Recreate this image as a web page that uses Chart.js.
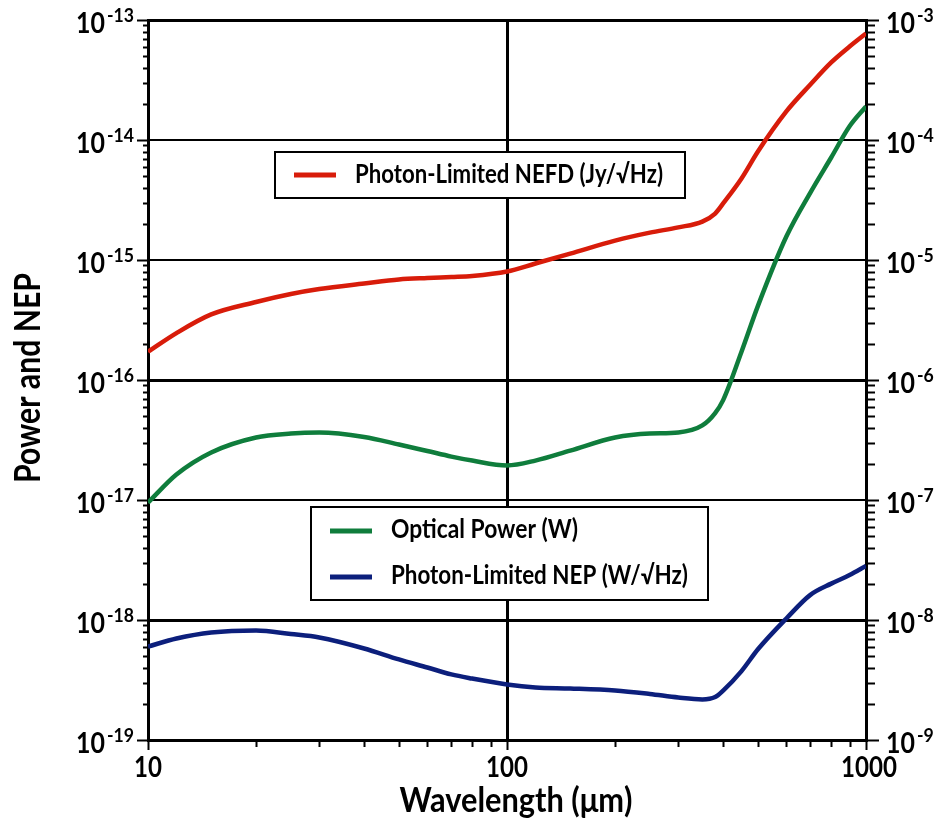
<!DOCTYPE html>
<html lang="en">
<head>
<meta charset="UTF-8">
<title>Power and NEP</title>
<script src="https://cdn.jsdelivr.net/npm/chart.js"></script>
<style>
  body { margin: 0; background: #fff; }
  canvas { display: block; }
</style>
</head>
<body>
<canvas id="chart" width="937" height="820"></canvas>
<script>
// wavelength (um)
const wavelengths = [10, 12, 15, 20, 25, 30, 40, 50, 60, 70, 80, 100, 120, 150, 200, 250, 300, 350, 380, 400, 450, 500, 600, 700, 800, 900, 1000];
// photon-limited NEFD (Jy/sqrt Hz), right axis
const nefd = [1.72e-6, 2.46e-6, 3.52e-6, 4.47e-6, 5.21e-6, 5.73e-6, 6.37e-6, 6.88e-6, 7.08e-6, 7.22e-6, 7.36e-6, 8.02e-6, 9.35e-6, 1.13e-5, 1.45e-5, 1.69e-5, 1.87e-5, 2.09e-5, 2.44e-5, 2.96e-5, 4.78e-5, 8.02e-5, 1.73e-4, 2.90e-4, 4.43e-4, 6.01e-4, 7.72e-4];
// optical power (W), right axis
const opticalPower = [9.5e-8, 1.63e-7, 2.49e-7, 3.32e-7, 3.58e-7, 3.65e-7, 3.35e-7, 2.90e-7, 2.56e-7, 2.30e-7, 2.13e-7, 1.94e-7, 2.13e-7, 2.58e-7, 3.32e-7, 3.58e-7, 3.65e-7, 4.18e-7, 5.30e-7, 6.80e-7, 1.72e-6, 4.15e-6, 1.57e-5, 3.65e-5, 7.15e-5, 1.30e-4, 1.90e-4];
// photon-limited NEP (W/sqrt Hz), left axis
const nep = [6.01e-19, 7.01e-19, 7.87e-19, 8.18e-19, 7.64e-19, 7.15e-19, 5.79e-19, 4.69e-19, 4.02e-19, 3.52e-19, 3.25e-19, 2.90e-19, 2.74e-19, 2.69e-19, 2.59e-19, 2.42e-19, 2.26e-19, 2.18e-19, 2.28e-19, 2.58e-19, 3.75e-19, 5.70e-19, 1.03e-18, 1.62e-18, 2.01e-18, 2.37e-18, 2.82e-18];

// tick labels
const xTickLabels = [10, 100, 1000];
const leftExponents = [-19, -18, -17, -16, -15, -14, -13];
const rightExponents = [-9, -8, -7, -6, -5, -4, -3];

const RED = '#d81c0a';
const GREEN = '#0f7d3c';
const BLUE = '#0c1f7c';
const FONT = 'Lato, "Open Sans", sans-serif';

function pts(arr) {
  return wavelengths.map((w, i) => ({ x: w, y: arr[i] }));
}

function isDecade(v) {
  const l = Math.log10(v);
  return Math.abs(l - Math.round(l)) < 1e-6;
}

// bold text squeezed sideways, the original face is a condensed one
function squeezed(ctx, text, x, y, size, align, sq) {
  ctx.save();
  ctx.font = 'bold ' + size + 'px ' + FONT;
  ctx.textAlign = 'left';
  ctx.textBaseline = 'alphabetic';
  const w = ctx.measureText(text).width * sq;
  let left = x;
  if (align === 'center') left = x - w / 2;
  if (align === 'right') left = x - w;
  ctx.translate(left, y);
  ctx.scale(sq, 1);
  ctx.fillText(text, 0, 0);
  ctx.restore();
  return w;
}

// same, but fit to a given width
function fitted(ctx, text, x, y, size, align, width) {
  ctx.save();
  ctx.font = 'bold ' + size + 'px ' + FONT;
  const sq = width / ctx.measureText(text).width;
  ctx.restore();
  return squeezed(ctx, text, x, y, size, align, sq);
}

function measure(ctx, text, size, sq) {
  ctx.save();
  ctx.font = 'bold ' + size + 'px ' + FONT;
  const w = ctx.measureText(text).width * sq;
  ctx.restore();
  return w;
}

const axisDecor = {
  id: 'axisDecor',
  afterDraw(chart) {
    const { ctx, chartArea: a, scales } = chart;
    ctx.save();
    ctx.strokeStyle = '#000';
    ctx.fillStyle = '#000';
    ctx.lineWidth = 2;

    // tick marks
    ctx.beginPath();
    for (let e = -19; e < -13; e++) {
      for (let k = 1; k <= 9; k++) {
        const py = Math.round(scales.y.getPixelForValue(k * Math.pow(10, e))) + 0.5;
        const len = k === 1 ? 11 : 5;
        ctx.moveTo(a.left, py); ctx.lineTo(a.left - len, py);
      }
    }
    for (let e = -9; e < -3; e++) {
      for (let k = 1; k <= 9; k++) {
        const py = Math.round(scales.y2.getPixelForValue(k * Math.pow(10, e))) + 0.5;
        const len = k === 1 ? 13 : 9;
        ctx.moveTo(a.right, py); ctx.lineTo(a.right + len, py);
      }
    }
    for (let e = 1; e < 3; e++) {
      for (let k = 1; k <= 9; k++) {
        const px = Math.round(scales.x.getPixelForValue(k * Math.pow(10, e))) + 0.5;
        const len = k === 1 ? 10 : 7;
        ctx.moveTo(px, a.bottom); ctx.lineTo(px, a.bottom + len);
      }
    }
    ctx.moveTo(a.left, Math.round(a.top) + 0.5); ctx.lineTo(a.left - 11, Math.round(a.top) + 0.5);
    ctx.moveTo(a.right, Math.round(a.top) + 0.5); ctx.lineTo(a.right + 13, Math.round(a.top) + 0.5);
    ctx.moveTo(a.right + 0.5, a.bottom); ctx.lineTo(a.right + 0.5, a.bottom + 10);
    ctx.stroke();

    // y tick labels, 10 with a raised exponent
    const baseSize = 29, baseSq = 0.86, expSize = 18, expSq = 0.98;
    leftExponents.forEach(e => {
      const py = scales.y.getPixelForValue(Math.pow(10, e));
      const expText = String(e);
      const we = measure(ctx, expText, expSize, expSq);
      squeezed(ctx, expText, 134 - we, py + 2, expSize, 'left', expSq);
      squeezed(ctx, '10', 134 - we - 2, py + 13, baseSize, 'right', baseSq);
    });
    rightExponents.forEach(e => {
      const py = scales.y2.getPixelForValue(Math.pow(10, e));
      const wb = squeezed(ctx, '10', 886, py + 13, baseSize, 'left', baseSq);
      squeezed(ctx, String(e), 886 + wb + 2, py + 2, expSize, 'left', expSq);
    });

    // x tick labels
    xTickLabels.forEach(v => {
      const px = scales.x.getPixelForValue(v);
      squeezed(ctx, String(v), px + (v === 1000 ? 3 : 0), a.bottom + 37, 28, 'center', baseSq);
    });

    // axis titles
    fitted(ctx, 'Wavelength (\u03bcm)', 516, 812, 35, 'center', 233);
    ctx.save();
    ctx.translate(40, 378);
    ctx.rotate(-Math.PI / 2);
    fitted(ctx, 'Power and NEP', 0, 0, 36, 'center', 210);
    ctx.restore();

    // legends
    ctx.lineWidth = 2;
    ctx.fillStyle = '#fff';
    ctx.fillRect(275, 152, 410, 46);
    ctx.strokeRect(275, 152, 410, 46);
    ctx.fillRect(311, 507, 397, 93);
    ctx.strokeRect(311, 507, 397, 93);

    const samples = [
      [RED, 175, 294, 'Photon-Limited NEFD (Jy/\u221aHz)', 355, 183, 308],
      [GREEN, 531, 330, 'Optical Power (W)', 391, 538, 187],
      [BLUE, 577, 330, 'Photon-Limited NEP (W/\u221aHz)', 391, 584, 297]
    ];
    samples.forEach(([color, ly, lx, text, tx, ty, tw]) => {
      ctx.strokeStyle = color;
      ctx.lineWidth = 5;
      ctx.beginPath();
      ctx.moveTo(lx, ly); ctx.lineTo(lx + 42, ly);
      ctx.stroke();
      ctx.fillStyle = '#000';
      fitted(ctx, text, tx, ty, 26, 'left', tw);
    });
    ctx.restore();
  }
};

const chart = new Chart(document.getElementById('chart'), {
  type: 'line',
  data: {
    datasets: [
      { label: 'Photon-Limited NEFD (Jy/\u221aHz)', data: pts(nefd), borderColor: RED, yAxisID: 'y2' },
      { label: 'Optical Power (W)', data: pts(opticalPower), borderColor: GREEN, yAxisID: 'y2' },
      { label: 'Photon-Limited NEP (W/\u221aHz)', data: pts(nep), borderColor: BLUE, yAxisID: 'y' }
    ]
  },
  options: {
    responsive: false,
    animation: false,
    layout: { padding: { left: 148, right: 71, top: 20, bottom: 80 } },
    elements: {
      point: { radius: 0 },
      line: { borderWidth: 4.5, cubicInterpolationMode: 'monotone', fill: false }
    },
    plugins: { legend: { display: false }, tooltip: { enabled: false } },
    scales: {
      x: {
        type: 'logarithmic', min: 10, max: 1000,
        ticks: { display: false, autoSkip: false },
        grid: {
          drawTicks: false,
          color: c => (c.tick && Math.abs(c.tick.value - 100) < 1e-6) ? '#000' : 'rgba(0,0,0,0)',
          lineWidth: 3
        },
        border: { color: '#000', width: 3 }
      },
      y: {
        type: 'logarithmic', position: 'left', min: 1e-19, max: 1e-13,
        ticks: { display: false, autoSkip: false },
        grid: {
          drawTicks: false,
          color: c => (c.tick && isDecade(c.tick.value)) ? '#000' : 'rgba(0,0,0,0)',
          lineWidth: c => {
            if (!c.tick) return 2;
            const e = Math.round(Math.log10(c.tick.value));
            return (e === -13 || e === -16 || e === -18) ? 3 : 2;
          }
        },
        border: { color: '#000', width: 3 }
      },
      y2: {
        type: 'logarithmic', position: 'right', min: 1e-9, max: 1e-3,
        ticks: { display: false, autoSkip: false },
        grid: { display: false, drawTicks: false },
        border: { color: '#000', width: 3 }
      }
    }
  },
  plugins: [axisDecor]
});
</script>
</body>
</html>
